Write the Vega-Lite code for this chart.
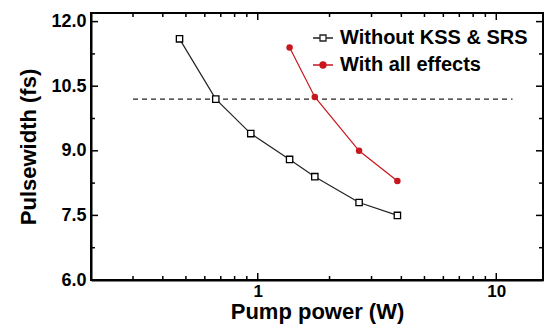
{
  "$schema": "https://vega.github.io/schema/vega-lite/v6.json",
  "width": 452,
  "height": 267,
  "autosize": {"type": "none"},
  "padding": {"left": 91, "top": 13, "right": 1, "bottom": 47},
  "background": "white",
  "config": {
    "font": "Liberation Sans",
    "view": {"stroke": "black", "strokeWidth": 2},
    "axis": {
      "grid": false,
      "domainColor": "black",
      "domainWidth": 2,
      "labelFont": "Liberation Sans",
      "labelFontWeight": "bold",
      "labelFontSize": 18,
      "labelColor": "black",
      "titleFont": "Liberation Sans",
      "titleFontSize": 22,
      "titleFontWeight": "bold",
      "titleColor": "black"
    },
    "legend": {
      "labelFont": "Liberation Sans",
      "labelFontSize": 20,
      "labelFontWeight": "bold",
      "labelColor": "black"
    }
  },
  "datasets": {
    "curves": [
      {"series": "Without KSS & SRS", "power": 0.47, "width": 11.6},
      {"series": "Without KSS & SRS", "power": 0.667, "width": 10.2},
      {"series": "Without KSS & SRS", "power": 0.935, "width": 9.4},
      {"series": "Without KSS & SRS", "power": 1.36, "width": 8.8},
      {"series": "Without KSS & SRS", "power": 1.735, "width": 8.4},
      {"series": "Without KSS & SRS", "power": 2.66, "width": 7.8},
      {"series": "Without KSS & SRS", "power": 3.85, "width": 7.5},
      {"series": "With all effects", "power": 1.36, "width": 11.4},
      {"series": "With all effects", "power": 1.735, "width": 10.25},
      {"series": "With all effects", "power": 2.66, "width": 9.0},
      {"series": "With all effects", "power": 3.85, "width": 8.3}
    ],
    "ref": [{"x": 0.3, "x2": 11.7, "y": 10.2}],
    "xticks": [
      {"v": 0.3, "kind": "minor"}, {"v": 0.4, "kind": "minor"}, {"v": 0.5, "kind": "minor"},
      {"v": 0.6, "kind": "minor"}, {"v": 0.7, "kind": "minor"}, {"v": 0.8, "kind": "minor"},
      {"v": 0.9, "kind": "minor"}, {"v": 1, "kind": "major"}, {"v": 2, "kind": "minor"},
      {"v": 3, "kind": "minor"}, {"v": 4, "kind": "minor"}, {"v": 5, "kind": "minor"},
      {"v": 6, "kind": "minor"}, {"v": 7, "kind": "minor"}, {"v": 8, "kind": "minor"},
      {"v": 9, "kind": "minor"}, {"v": 10, "kind": "major"}
    ],
    "yticks": [
      {"v": 6, "kind": "major"}, {"v": 6.75, "kind": "minor"}, {"v": 7.5, "kind": "major"},
      {"v": 8.25, "kind": "minor"}, {"v": 9, "kind": "major"}, {"v": 9.75, "kind": "minor"},
      {"v": 10.5, "kind": "major"}, {"v": 11.25, "kind": "minor"}, {"v": 12, "kind": "major"}
    ]
  },
  "layer": [
    {
      "data": {"name": "ref"},
      "mark": {"type": "rule", "strokeDash": [5, 4], "color": "#222", "strokeWidth": 1.2},
      "encoding": {
        "x": {
          "field": "x", "type": "quantitative",
          "scale": {"type": "log", "domain": [0.2, 15.7], "nice": false},
          "axis": {
            "title": "Pump power (W)",
            "values": [1, 10],
            "format": "~g",
            "ticks": false,
            "labelFontSize": 17,
            "labelPadding": 3,
            "titlePadding": 2
          }
        },
        "x2": {"field": "x2"},
        "y": {
          "field": "y", "type": "quantitative",
          "scale": {"domain": [6, 12.2], "nice": false, "zero": false},
          "axis": {
            "title": "Pulsewidth (fs)",
            "values": [6, 7.5, 9, 10.5, 12],
            "format": ".1f",
            "ticks": false,
            "labelPadding": 5,
            "titlePadding": 10
          }
        }
      }
    },
    {
      "data": {"name": "xticks"},
      "transform": [{"filter": "datum.kind == 'minor'"}],
      "mark": {"type": "rule", "strokeWidth": 1.5, "color": "black"},
      "encoding": {
        "x": {"field": "v", "type": "quantitative"},
        "y": {"datum": 6, "type": "quantitative"},
        "y2": {"datum": 6.093}
      }
    },
    {
      "data": {"name": "xticks"},
      "transform": [{"filter": "datum.kind == 'major'"}],
      "mark": {"type": "rule", "strokeWidth": 1.5, "color": "black"},
      "encoding": {
        "x": {"field": "v", "type": "quantitative"},
        "y": {"datum": 6, "type": "quantitative"},
        "y2": {"datum": 6.163}
      }
    },
    {
      "data": {"name": "xticks"},
      "transform": [{"filter": "datum.kind == 'minor'"}],
      "mark": {"type": "rule", "strokeWidth": 1.5, "color": "black"},
      "encoding": {
        "x": {"field": "v", "type": "quantitative"},
        "y": {"datum": 12.2, "type": "quantitative"},
        "y2": {"datum": 12.107}
      }
    },
    {
      "data": {"name": "xticks"},
      "transform": [{"filter": "datum.kind == 'major'"}],
      "mark": {"type": "rule", "strokeWidth": 1.5, "color": "black"},
      "encoding": {
        "x": {"field": "v", "type": "quantitative"},
        "y": {"datum": 12.2, "type": "quantitative"},
        "y2": {"datum": 12.037}
      }
    },
    {
      "data": {"name": "yticks"},
      "transform": [{"filter": "datum.kind == 'minor'"}],
      "mark": {"type": "rule", "strokeWidth": 1.5, "color": "black"},
      "encoding": {
        "y": {"field": "v", "type": "quantitative"},
        "x": {"datum": 0.2, "type": "quantitative"},
        "x2": {"datum": 0.2079}
      }
    },
    {
      "data": {"name": "yticks"},
      "transform": [{"filter": "datum.kind == 'major'"}],
      "mark": {"type": "rule", "strokeWidth": 1.5, "color": "black"},
      "encoding": {
        "y": {"field": "v", "type": "quantitative"},
        "x": {"datum": 0.2, "type": "quantitative"},
        "x2": {"datum": 0.214}
      }
    },
    {
      "data": {"name": "yticks"},
      "transform": [{"filter": "datum.kind == 'minor'"}],
      "mark": {"type": "rule", "strokeWidth": 1.5, "color": "black"},
      "encoding": {
        "y": {"field": "v", "type": "quantitative"},
        "x": {"datum": 15.7, "type": "quantitative"},
        "x2": {"datum": 15.1}
      }
    },
    {
      "data": {"name": "yticks"},
      "transform": [{"filter": "datum.kind == 'major'"}],
      "mark": {"type": "rule", "strokeWidth": 1.5, "color": "black"},
      "encoding": {
        "y": {"field": "v", "type": "quantitative"},
        "x": {"datum": 15.7, "type": "quantitative"},
        "x2": {"datum": 14.67}
      }
    },
    {
      "data": {"name": "curves"},
      "transform": [{"filter": "datum.series == 'Without KSS & SRS'"}],
      "mark": {"type": "line", "strokeWidth": 1.2, "color": "#222222"},
      "encoding": {
        "x": {"field": "power", "type": "quantitative"},
        "y": {"field": "width", "type": "quantitative"}
      }
    },
    {
      "data": {"name": "curves"},
      "transform": [{"filter": "datum.series == 'With all effects'"}],
      "mark": {"type": "line", "strokeWidth": 1.2, "color": "#c8161d"},
      "encoding": {
        "x": {"field": "power", "type": "quantitative"},
        "y": {"field": "width", "type": "quantitative"}
      }
    },
    {
      "data": {"name": "curves"},
      "transform": [{"filter": "datum.series == 'Without KSS & SRS'"}],
      "mark": {"type": "square", "size": 40, "fill": "white", "stroke": "black", "strokeWidth": 1.3, "opacity": 1},
      "encoding": {
        "x": {"field": "power", "type": "quantitative"},
        "y": {"field": "width", "type": "quantitative"}
      }
    },
    {
      "data": {"name": "curves"},
      "transform": [{"filter": "datum.series == 'With all effects'"}],
      "mark": {"type": "circle", "size": 42, "color": "#c8161d", "opacity": 1},
      "encoding": {
        "x": {"field": "power", "type": "quantitative"},
        "y": {"field": "width", "type": "quantitative"}
      }
    },
    {
      "data": {"name": "curves"},
      "mark": {"type": "point", "filled": true, "size": 0, "strokeWidth": 1.3, "opacity": 1},
      "encoding": {
        "x": {"field": "power", "type": "quantitative"},
        "y": {"field": "width", "type": "quantitative"},
        "shape": {
          "field": "series", "type": "nominal",
          "scale": {
            "domain": ["Without KSS & SRS", "With all effects"],
            "range": [
              "M-1,0H-0.3M0.3,0H1M-0.3,-0.3H0.3V0.3H-0.3Z",
              "M-1,0H1M-0.3,0A0.3,0.3 0 1,0 0.3,0A0.3,0.3 0 1,0 -0.3,0Z"
            ]
          },
          "legend": {
            "title": null,
            "orient": "none",
            "legendX": 221,
            "legendY": 14,
            "symbolSize": 400,
            "symbolStrokeWidth": 1.3,
            "symbolOpacity": 1,
            "labelOffset": 6,
            "labelLimit": 0,
            "rowPadding": 6,
            "padding": 0
          }
        },
        "fill": {
          "field": "series", "type": "nominal",
          "scale": {"domain": ["Without KSS & SRS", "With all effects"], "range": ["white", "#c8161d"]}
        },
        "stroke": {
          "field": "series", "type": "nominal",
          "scale": {"domain": ["Without KSS & SRS", "With all effects"], "range": ["#222222", "#c8161d"]}
        }
      }
    }
  ]
}
